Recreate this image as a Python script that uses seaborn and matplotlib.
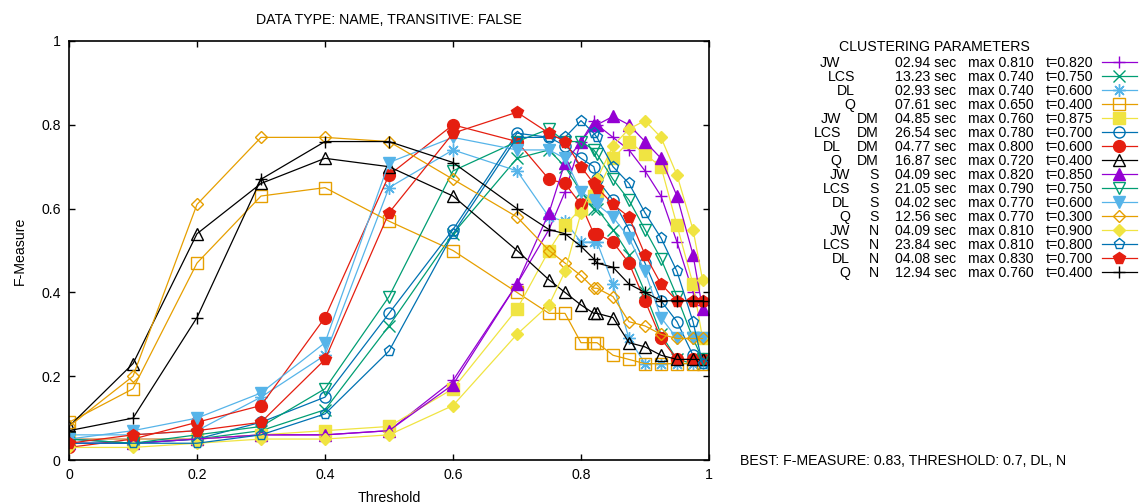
import numpy as np
import pandas as pd
import matplotlib
matplotlib.use('Agg')
import matplotlib.pyplot as plt
import seaborn as sns

plt.rcParams['font.family'] = ['Liberation Sans', 'DejaVu Sans']
plt.rcParams['font.size'] = 10.2

# thresholds evaluated
thresholds = [0, 0.1, 0.2, 0.3, 0.4, 0.5, 0.6, 0.7, 0.75, 0.775, 0.8, 0.82, 0.825,
              0.85, 0.875, 0.9, 0.925, 0.95, 0.975, 0.99]

# F-measure per clustering setup
jw = [0.05, 0.05, 0.05, 0.06, 0.06, 0.07, 0.19, 0.42, 0.55, 0.64, 0.76, 0.81, 0.80, 0.77, 0.74, 0.69, 0.63, 0.52, 0.40, 0.37]
lcs = [0.04, 0.04, 0.05, 0.07, 0.12, 0.32, 0.54, 0.72, 0.74, 0.70, 0.64, 0.60, 0.60, 0.55, 0.49, 0.40, 0.30, 0.24, 0.23, 0.23]
dl = [0.06, 0.06, 0.07, 0.15, 0.25, 0.65, 0.74, 0.69, 0.58, 0.57, 0.52, 0.52, 0.52, 0.42, 0.29, 0.23, 0.23, 0.23, 0.23, 0.23]
q = [0.09, 0.17, 0.47, 0.63, 0.65, 0.57, 0.50, 0.40, 0.35, 0.35, 0.28, 0.28, 0.28, 0.25, 0.24, 0.23, 0.23, 0.23, 0.23, 0.23]
jw_dm = [0.05, 0.05, 0.05, 0.06, 0.07, 0.08, 0.17, 0.36, 0.50, 0.56, 0.60, 0.63, 0.64, 0.72, 0.76, 0.73, 0.70, 0.56, 0.42, 0.29]
lcs_dm = [0.05, 0.04, 0.05, 0.09, 0.15, 0.35, 0.55, 0.78, 0.77, 0.75, 0.72, 0.70, 0.67, 0.62, 0.55, 0.47, 0.38, 0.33, 0.25, 0.24]
dl_dm = [0.03, 0.05, 0.09, 0.13, 0.34, 0.68, 0.80, 0.76, 0.67, 0.66, 0.61, 0.54, 0.54, 0.52, 0.47, 0.38, 0.29, 0.24, 0.24, 0.24]
q_dm = [0.08, 0.23, 0.54, 0.66, 0.72, 0.70, 0.63, 0.50, 0.43, 0.40, 0.37, 0.35, 0.35, 0.34, 0.28, 0.27, 0.25, 0.24, 0.24, 0.24]
jw_s = [0.04, 0.04, 0.05, 0.06, 0.06, 0.07, 0.18, 0.42, 0.59, 0.71, 0.76, 0.80, 0.80, 0.82, 0.80, 0.76, 0.72, 0.63, 0.49, 0.36]
lcs_s = [0.05, 0.04, 0.06, 0.08, 0.17, 0.39, 0.69, 0.76, 0.79, 0.76, 0.76, 0.74, 0.73, 0.67, 0.62, 0.55, 0.48, 0.39, 0.29, 0.24]
dl_s = [0.05, 0.07, 0.10, 0.16, 0.28, 0.71, 0.77, 0.74, 0.74, 0.72, 0.64, 0.62, 0.61, 0.58, 0.53, 0.45, 0.34, 0.29, 0.29, 0.29]
q_s = [0.08, 0.20, 0.61, 0.77, 0.77, 0.76, 0.67, 0.58, 0.50, 0.47, 0.44, 0.41, 0.41, 0.39, 0.33, 0.32, 0.30, 0.29, 0.29, 0.29]
jw_n = [0.03, 0.03, 0.04, 0.05, 0.05, 0.06, 0.13, 0.30, 0.37, 0.45, 0.59, 0.66, 0.67, 0.75, 0.79, 0.81, 0.77, 0.68, 0.55, 0.43]
lcs_n = [0.04, 0.04, 0.04, 0.06, 0.11, 0.26, 0.54, 0.77, 0.77, 0.77, 0.81, 0.78, 0.77, 0.70, 0.66, 0.59, 0.53, 0.45, 0.33, 0.23]
dl_n = [0.04, 0.06, 0.07, 0.09, 0.24, 0.59, 0.78, 0.83, 0.78, 0.76, 0.70, 0.66, 0.65, 0.61, 0.58, 0.49, 0.42, 0.38, 0.38, 0.38]
q_n = [0.07, 0.10, 0.34, 0.67, 0.76, 0.76, 0.71, 0.60, 0.55, 0.54, 0.51, 0.48, 0.47, 0.46, 0.42, 0.40, 0.38, 0.38, 0.38, 0.38]

series = [jw, lcs, dl, q, jw_dm, lcs_dm, dl_dm, q_dm,
          jw_s, lcs_s, dl_s, q_s, jw_n, lcs_n, dl_n, q_n]

# legend columns
names = ['JW', 'LCS', 'DL', 'Q'] * 4
variants = [''] * 4 + ['DM'] * 4 + ['S'] * 4 + ['N'] * 4
times = ['02.94', '13.23', '02.93', '07.61', '04.85', '26.54', '04.77', '16.87',
         '04.09', '21.05', '04.02', '12.56', '04.09', '23.84', '04.08', '12.94']
maxes = [0.810, 0.740, 0.740, 0.650, 0.760, 0.780, 0.800, 0.720,
         0.820, 0.790, 0.770, 0.770, 0.810, 0.810, 0.830, 0.760]
best_t = [0.820, 0.750, 0.600, 0.400, 0.875, 0.700, 0.600, 0.400,
          0.850, 0.750, 0.600, 0.300, 0.900, 0.800, 0.700, 0.400]

colors = ['#9400d3', '#009e73', '#56b4e9', '#e69f00', '#f0e442', '#0072b2', '#e51e10', '#000000']
markers = ['+', 'x', (8, 2, 0), 's', 's', 'o', 'o', '^', '^', 'v', 'v', 'D', 'D', 'p', 'p', '+']
filled = [False, False, False, False, True, False, True, False,
          True, False, True, False, True, False, True, False]
msizes = [9, 8, 9, 8, 8, 8, 8.5, 8, 8, 8, 8, 6.5, 6.5, 8, 8.5, 9]

W, H = 1139, 503
fig = plt.figure(figsize=(W / 100, H / 100), dpi=100)
ax = fig.add_axes([69 / W, 43 / H, 640 / W, 419 / H])

for i, vals in enumerate(series):
    c = colors[i % 8]
    sns.lineplot(x=thresholds, y=vals, ax=ax, color=c, linewidth=0.9,
                 marker=markers[i], markersize=msizes[i], markeredgecolor=c,
                 markerfacecolor=c if filled[i] else 'none', markeredgewidth=1.0,
                 errorbar=None, legend=False)

ax.set_xlim(0, 1)
ax.set_ylim(0, 1)
ticks = [0, 0.2, 0.4, 0.6, 0.8, 1]
ax.set_xticks(ticks)
ax.set_xticklabels(['0', '0.2', '0.4', '0.6', '0.8', '1'])
ax.set_yticks(ticks)
ax.set_yticklabels(['0', '0.2', '0.4', '0.6', '0.8', '1'])
ax.tick_params(direction='in', top=True, right=True, length=4, width=1, pad=6)
for s in ax.spines.values():
    s.set_linewidth(1.2)
ax.set_xlabel('Threshold', labelpad=6)
ax.set_ylabel('F-Measure', labelpad=10)
ax.set_title('DATA TYPE: NAME, TRANSITIVE: FALSE', pad=12.5, fontsize=10.2)

handles = ax.get_lines()
leg = fig.legend(handles, [f't={t:.3f}' for t in best_t], loc='upper right',
                 bbox_to_anchor=(1137 / W, 1 - 56 / H), frameon=False, markerfirst=False,
                 handlelength=2.5, handletextpad=0.6, labelspacing=0.0,
                 borderpad=0, borderaxespad=0, fontsize=10.2)

fig.text(934 / W, 1 - 47 / H, 'CLUSTERING PARAMETERS', ha='center', va='center')

name_right = [840, 855, 855, 855, 841, 841, 841, 841, 850, 850, 850, 850, 850, 850, 850, 850]
fig.canvas.draw()
renderer = fig.canvas.get_renderer()
for i, txt in enumerate(leg.get_texts()):
    bb = txt.get_window_extent(renderer)
    yc = (bb.y0 + bb.y1) / 2 / H
    fig.text(name_right[i] / W, yc, names[i], ha='right', va='center')
    if variants[i]:
        fig.text(879 / W, yc, variants[i], ha='right', va='center')
    fig.text(895 / W, yc, f'{times[i]} sec', ha='left', va='center')
    fig.text(968 / W, yc, f'max {maxes[i]:.3f}', ha='left', va='center')

fig.text(740 / W, 1 - 461 / H, 'BEST: F-MEASURE: 0.83, THRESHOLD: 0.7, DL, N',
         ha='left', va='center')

plt.savefig('out.png', dpi=100)
